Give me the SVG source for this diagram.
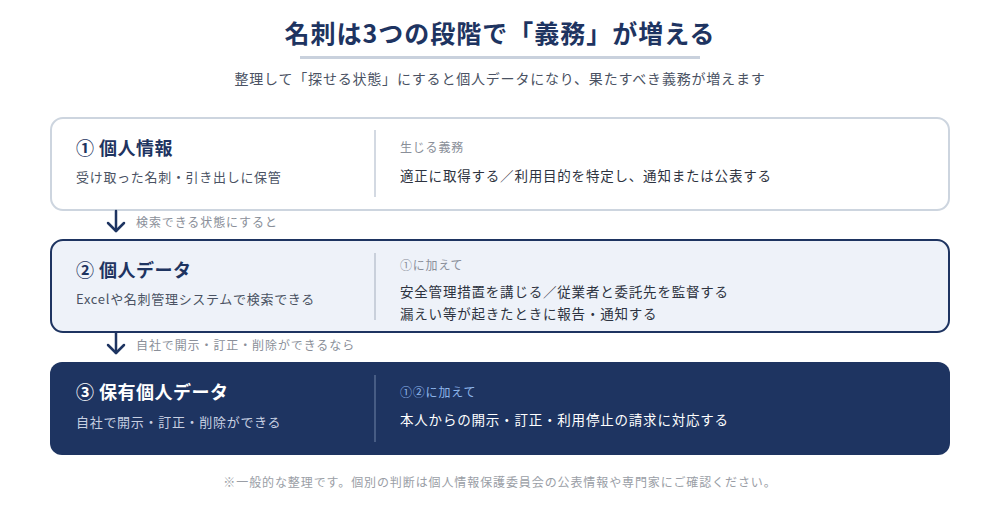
<svg xmlns="http://www.w3.org/2000/svg" width="1000" height="505" viewBox="0 0 1000 505">
<defs>
<style>
text{font-family:"Noto Sans CJK JP","Noto Sans",sans-serif;}
.title{font-size:25px;font-weight:700;fill:#1e3461;letter-spacing:1px;}
.subtitle{font-size:14px;fill:#4a5263;letter-spacing:0.8px;}
.ntitle{font-size:18px;font-weight:700;fill:#1e3461;letter-spacing:0.5px;}
.nsub{font-size:13px;fill:#4a5263;letter-spacing:0.7px;}
.lbl{font-size:12px;fill:#8a8f99;letter-spacing:0.8px;}
.duty{font-size:13.5px;fill:#2d3340;letter-spacing:0.8px;}
.alabel{font-size:12px;fill:#8a8f99;letter-spacing:0.9px;}
.foot{font-size:12px;fill:#9a9ea6;letter-spacing:0.9px;}
.arrow{stroke:#1e3461;stroke-width:2.5;fill:none;stroke-linecap:round;stroke-linejoin:round;}
</style>
</defs>
<rect width="1000" height="505" fill="#ffffff"/>
<g id="header">
<text class="title" x="500" y="43" text-anchor="middle">名刺は3つの段階で「義務」が増える</text>
<rect x="300" y="56" width="400" height="3" fill="#c9d1dd"/>
<text class="subtitle" x="500" y="84" text-anchor="middle">整理して「探せる状態」にすると個人データになり、果たすべき義務が増えます</text>
</g>
<g id="node1">
<rect x="51" y="118" width="898" height="92" rx="12" fill="#ffffff" stroke="#cdd5df" stroke-width="2"/>
<line x1="375" y1="130" x2="375" y2="197" stroke="#d3d9e2" stroke-width="2"/>
<text class="ntitle" x="76" y="155">① 個人情報</text>
<text class="nsub" x="76" y="182">受け取った名刺・引き出しに保管</text>
<text class="lbl" x="400" y="152">生じる義務</text>
<text class="duty" x="400" y="181">適正に取得する／利用目的を特定し、通知または公表する</text>
</g>
<g id="node2">
<rect x="51" y="240" width="898" height="92" rx="12" fill="#eef2f9" stroke="#1e3461" stroke-width="2"/>
<line x1="375" y1="253" x2="375" y2="320" stroke="#c9d0db" stroke-width="2"/>
<text class="ntitle" x="76" y="277">② 個人データ</text>
<text class="nsub" x="76" y="304">Excelや名刺管理システムで検索できる</text>
<text class="lbl" x="400" y="270">①に加えて</text>
<text class="duty" x="400" y="297">安全管理措置を講じる／従業者と委託先を監督する</text>
<text class="duty" x="400" y="319">漏えい等が起きたときに報告・通知する</text>
</g>
<g id="node3">
<rect x="50" y="362" width="900" height="93" rx="12" fill="#1e3461"/>
<line x1="375" y1="375" x2="375" y2="442" stroke="#475c84" stroke-width="2"/>
<text class="ntitle" x="76" y="399" style="fill:#ffffff">③ 保有個人データ</text>
<text class="nsub" x="76" y="427" style="fill:#c8d0e2">自社で開示・訂正・削除ができる</text>
<text class="lbl" x="400" y="397" style="fill:#8fb6ec">①②に加えて</text>
<text class="duty" x="400" y="425" style="fill:#ffffff">本人からの開示・訂正・利用停止の請求に対応する</text>
</g>
<g id="connectors">
<line class="arrow" x1="116" y1="211" x2="116" y2="231"/>
<polyline class="arrow" points="108,223 116,231 124,223"/>
<text class="alabel" x="136" y="227">検索できる状態にすると</text>
<line class="arrow" x1="116" y1="333" x2="116" y2="353"/>
<polyline class="arrow" points="108,345 116,353 124,345"/>
<text class="alabel" x="136" y="350">自社で開示・訂正・削除ができるなら</text>
</g>
<g id="footer">
<text class="foot" x="500" y="487" text-anchor="middle">※一般的な整理です。個別の判断は個人情報保護委員会の公表情報や専門家にご確認ください。</text>
</g>
</svg>
